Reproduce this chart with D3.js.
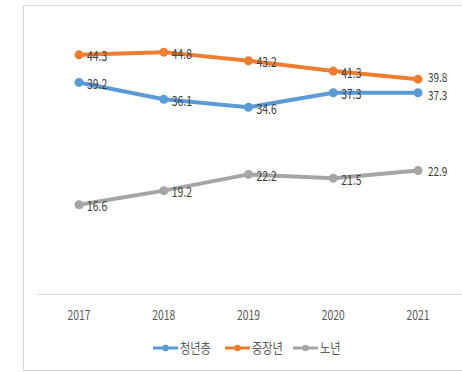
<!DOCTYPE html>
<html>
<head>
<meta charset="utf-8">
<script src="https://cdn.jsdelivr.net/npm/d3@7"></script>
<style>
  html, body { margin: 0; padding: 0; background: #fff; }
  svg { display: block; }
  text { font-family: "Noto Sans CJK KR", "Noto Sans", sans-serif; }
</style>
</head>
<body>
<svg id="chart" width="462" height="372"></svg>
<script>
// Years shown along the x axis
const years = ["2017", "2018", "2019", "2020", "2021"];

// Series values (%) by age group
const youth = [39.2, 36.1, 34.6, 37.3, 37.3];
const middle = [44.3, 44.8, 43.2, 41.3, 39.8];
const senior = [16.6, 19.2, 22.2, 21.5, 22.9];

const seriesNames = ["청년층", "중장년", "노년"];
const seriesColors = ["#5B9BD5", "#ED7D31", "#A5A5A5"];

const series = [youth, middle, senior].map((values, i) => ({
  name: seriesNames[i],
  color: seriesColors[i],
  values
}));

// Narrow glyphs: squeeze text horizontally around its anchor point
const squeeze = 0.8;
function narrowText(sel, px, py) {
  sel.attr("x", 0).attr("y", 0)
    .attr("transform", (d, i) => `translate(${px(d, i)},${py(d, i)}) scale(${squeeze},1)`);
}

const svg = d3.select("#chart");

// Outer frame of the chart area
svg.append("rect")
  .attr("x", 23.5).attr("y", 5.5)
  .attr("width", 460).attr("height", 365)
  .attr("fill", "#fff")
  .attr("stroke", "#d9d9d9")
  .attr("stroke-width", 1);

const x = d3.scalePoint()
  .domain(years)
  .range([79, 418]);

const y = d3.scaleLinear()
  .domain([0, 50])
  .range([294.5, 24]);

// Category axis: baseline plus year labels, no tick marks
const xAxis = d3.axisBottom(x).tickSize(0).tickFormat("");
const gx = svg.append("g")
  .attr("transform", `translate(0,${y(0)})`)
  .call(xAxis);
gx.select(".domain").remove();

svg.append("g").selectAll("text")
  .data(x.domain())
  .join("text")
  .call(narrowText, d => x(d), () => y(0) + 25)
  .attr("text-anchor", "middle")
  .attr("font-size", 13)
  .attr("fill", "#595959")
  .text(d => d);

svg.append("line")
  .attr("x1", 37).attr("x2", 462)
  .attr("y1", y(0)).attr("y2", y(0))
  .attr("stroke", "#d9d9d9")
  .attr("stroke-width", 1);

const line = d3.line()
  .x((d, i) => x(years[i]))
  .y(d => y(d));

series.forEach(s => {
  const g = svg.append("g");
  g.append("path")
    .datum(s.values)
    .attr("d", line)
    .attr("fill", "none")
    .attr("stroke", s.color)
    .attr("stroke-width", 4)
    .attr("stroke-linejoin", "round");
  g.selectAll("circle")
    .data(s.values)
    .join("circle")
    .attr("cx", (d, i) => x(years[i]))
    .attr("cy", d => y(d))
    .attr("r", 4.5)
    .attr("fill", s.color);
});

// Value labels to the right of each point; the two end labels are nudged apart
const endNudge = { "청년층": 2.5, "중장년": -2.5, "노년": 0 };
series.forEach(s => {
  const last = years.length - 1;
  svg.append("g").selectAll("text")
    .data(s.values)
    .join("text")
    .call(narrowText,
      (d, i) => x(years[i]) + (i === last ? 10 : 8),
      (d, i) => y(d) + (i === last ? 5 + endNudge[s.name] : 6.5))
    .attr("font-size", (d, i) => i === last ? 12.5 : 13)
    .attr("fill", "#404040")
    .text(d => d.toFixed(1));
});

// Legend
const legendX = [153, 225, 293];
const legend = svg.append("g");
series.forEach((s, i) => {
  const lg = legend.append("g").attr("transform", `translate(${legendX[i]},348)`);
  lg.append("line")
    .attr("x1", 0).attr("x2", 25)
    .attr("stroke", s.color).attr("stroke-width", 3);
  lg.append("circle").attr("cx", 12.5).attr("r", 3.2).attr("fill", s.color);
  lg.append("text")
    .call(narrowText, () => 27, () => 5)
    .attr("font-size", 14)
    .attr("fill", "#595959")
    .text(s.name);
});
</script>
</body>
</html>
